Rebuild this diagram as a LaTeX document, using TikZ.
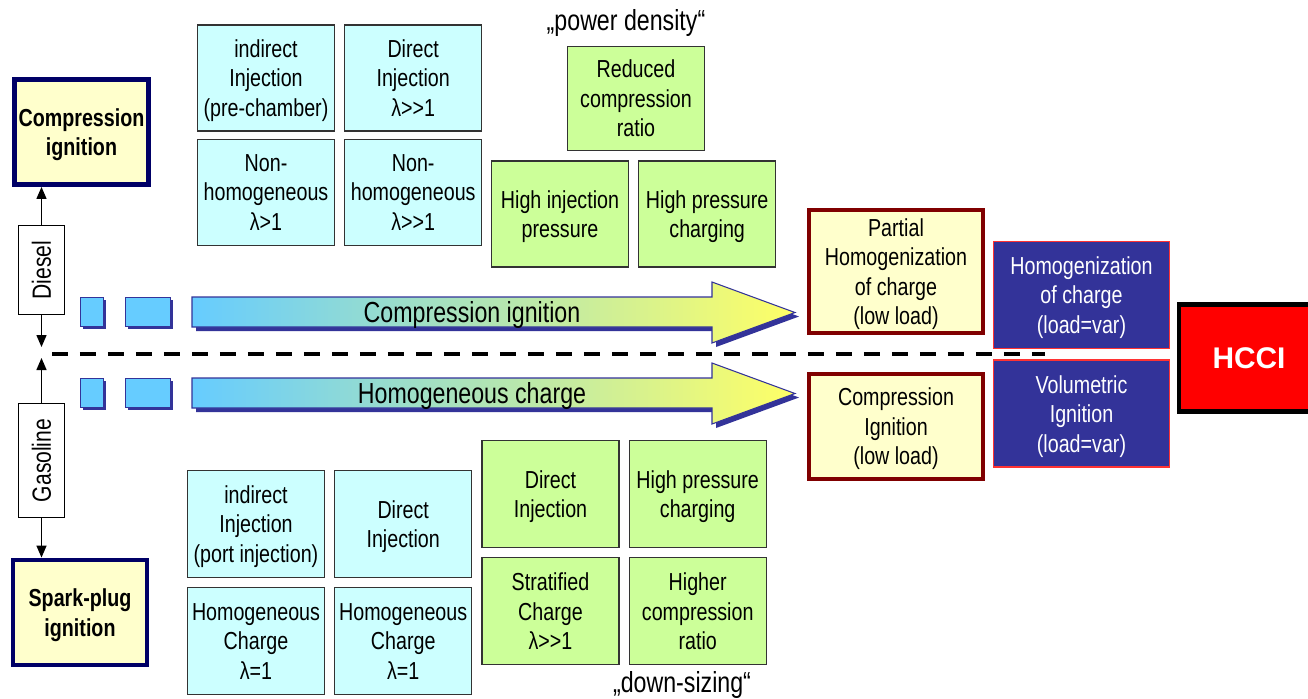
\documentclass[tikz,border=0pt]{standalone}
\usepackage{fontspec}
\setmainfont{Liberation Sans}[FakeStretch=0.8]
\newfontfamily\plainfont{Liberation Sans}
\usetikzlibrary{positioning, arrows.meta, shadows}
\definecolor{cyanfill}{HTML}{CCFFFF}
\definecolor{greenfill}{HTML}{CCFF99}
\definecolor{paleyellow}{HTML}{FFFFCC}
\definecolor{enginenavy}{HTML}{000066}
\definecolor{darkred}{HTML}{800000}
\definecolor{navyfill}{HTML}{333399}
\definecolor{navyedge}{HTML}{FF3333}
\definecolor{hccired}{HTML}{FF0000}
\definecolor{tileblue}{HTML}{66CCFF}
\definecolor{tilenavy}{HTML}{333399}
\definecolor{arrowblue}{HTML}{66CCFF}
\definecolor{arrowyellow}{HTML}{FFFF66}
\newcommand\muchgt{>\kern0pt>}

\begin{document}
\begin{tikzpicture}[x=0.02cm, y=-0.02cm, node distance=0.18cm,
  every node/.style={font=\fontsize{14}{16.8}\selectfont, align=center, inner sep=1pt, text depth=0pt},
  lightbox/.style={draw=black!80, line width=0.7pt, minimum width=2.74cm, minimum height=2.12cm},
  cyanbox/.style={lightbox, fill=cyanfill},
  greenbox/.style={lightbox, fill=greenfill},
  enginebox/.style={draw=enginenavy, line width=2.8pt, fill=paleyellow, outer sep=auto,
    minimum width=2.68cm, minimum height=2.1cm, font=\bfseries\fontsize{14}{16.8}\selectfont},
  fuelbox/.style={draw, line width=0.6pt, fill=white, minimum width=0.92cm, font=\fontsize{15}{18}\selectfont},
  stagebox/.style={draw=darkred, line width=2.3pt, fill=paleyellow, minimum width=3.48cm},
  navybox/.style={draw=navyedge, line width=1.1pt, fill=navyfill, text=white,
    minimum width=3.52cm, minimum height=2.14cm},
  hccibox/.style={draw=black, line width=2.8pt, fill=hccired, text=white,
    minimum width=2.8cm, minimum height=2.14cm, font=\plainfont\bfseries\fontsize{17}{20}\selectfont},
  tile/.style={draw=tilenavy, fill=tileblue, line width=0.5pt, minimum height=0.58cm,
    drop shadow={shadow xshift=0.06cm, shadow yshift=-0.06cm, fill=tilenavy, opacity=1}},
  label/.style={font=\fontsize{16.5}{19}\selectfont},
  ptr/.style={-{Triangle[length=0.24cm, width=0.2cm]}, line width=0.8pt}
]
\useasboundingbox (0,0) rectangle (1308,698);
\clip (0,0) rectangle (1308,698);

\node[enginebox] (ciEngine) at (81.5,132) {Compression\\ignition};
\node[enginebox] (spEngine) at (80,612.5) {Spark-plug\\ignition};
\node[fuelbox, minimum height=1.78cm] (diesel) at (41.5,270) {\rotatebox{90}{Diesel}};
\node[fuelbox, minimum height=2.28cm] (gasoline) at (41.5,460.5) {\rotatebox{90}{Gasoline}};
\coordinate (dieselEnd) at (41.5,347);
\coordinate (gasolineEnd) at (41.5,358);
\draw[ptr] (diesel.north) -- (diesel.north |- ciEngine.south);
\draw[ptr] (diesel.south) -- (dieselEnd);
\draw[ptr] (gasoline.north) -- (gasolineEnd);
\draw[ptr] (gasoline.south) -- (gasoline.south |- spEngine.north);

\coordinate (splitL) at (52,354);
\coordinate (splitR) at (1045,354);
\draw[line width=2.4pt, dash pattern=on 0.32cm off 0.24cm] (splitL) -- (splitR);

\node[tile, minimum width=0.46cm] (tileA) at (91.5,311.5) {};
\node[tile, minimum width=0.9cm] (tileB) at (147.5,311.5) {};
\node[tile, minimum width=0.46cm] (tileC) at (91.5,392.5) {};
\node[tile, minimum width=0.9cm] (tileD) at (147.5,392.5) {};

\foreach \dy in {0,81} {
  \fill[tilenavy, shift={(4,4+\dy)}] (192,297) -- (712,297) -- (712,282) -- (795,312.5)
    -- (712,343) -- (712,327) -- (192,327) -- cycle;
  \shade[shift={(0,\dy)}, draw=tilenavy, line width=0.6pt, left color=arrowblue, right color=arrowyellow]
    (192,297) -- (712,297) -- (712,282) -- (795,312.5) -- (712,343) -- (712,327) -- (192,327) -- cycle;
}
\node[label] (ciFlow) at (472,312) {Compression ignition};
\node[label] (hcFlow) at (472,393) {Homogeneous charge};

\node[cyanbox] (dIndirect) at (266,78) {indirect\\Injection\\(pre-chamber)};
\node[cyanbox, right=of dIndirect] (dDirect) {Direct\\Injection\\λ\muchgt1};
\node[cyanbox, below=0.14cm of dIndirect] (dNonHomA) {Non-\\homogeneous\\λ>1};
\node[cyanbox, below=0.14cm of dDirect] (dNonHomB) {Non-\\homogeneous\\λ\muchgt1};
\node[greenbox] (dInjPress) at (560,214) {High injection\\pressure};
\node[greenbox, right=of dInjPress] (dCharging) {High pressure\\charging};
\node[greenbox, minimum height=2.08cm] (dRatio) at (636,98.5) {Reduced\\compression\\ratio};
\node[label] (powerLabel) at (626,20) {„power density“};

\node[cyanbox, minimum height=2.14cm] (gIndirect) at (256,524) {indirect\\Injection\\(port injection)};
\node[cyanbox, minimum height=2.14cm, right=of gIndirect] (gDirect) {Direct\\Injection};
\node[cyanbox, minimum height=2.14cm, below=of gIndirect] (gHomA) {Homogeneous\\Charge\\λ=1};
\node[cyanbox, minimum height=2.14cm, below=of gDirect] (gHomB) {Homogeneous\\Charge\\λ=1};
\node[greenbox, minimum height=2.14cm] (gDirectInj) at (550.5,494) {Direct\\Injection};
\node[greenbox, minimum height=2.14cm, right=of gDirectInj] (gCharging) {High pressure\\charging};
\node[greenbox, minimum height=2.14cm, below=of gDirectInj] (gStratified) {Stratified\\Charge\\λ\muchgt1};
\node[greenbox, minimum height=2.14cm, below=of gCharging] (gRatio) {Higher\\compression\\ratio};
\node[label] (downLabel) at (682,682) {„down-sizing“};

\node[stagebox, minimum height=2.46cm] (partialHom) at (896,271.5) {Partial\\Homogenization\\of charge\\(low load)};
\node[stagebox, minimum height=2.10cm] (lowLoadCI) at (896,426.5) {Compression\\Ignition\\(low load)};
\node[navybox] (fullHom) at (1081.5,295) {Homogenization\\of charge\\(load=var)};
\node[navybox, below=0.2cm of fullHom] (volIgnition) {Volumetric\\Ignition\\(load=var)};
\node[hccibox] (hcci) at (1249,358) {HCCI};
\end{tikzpicture}
\end{document}
